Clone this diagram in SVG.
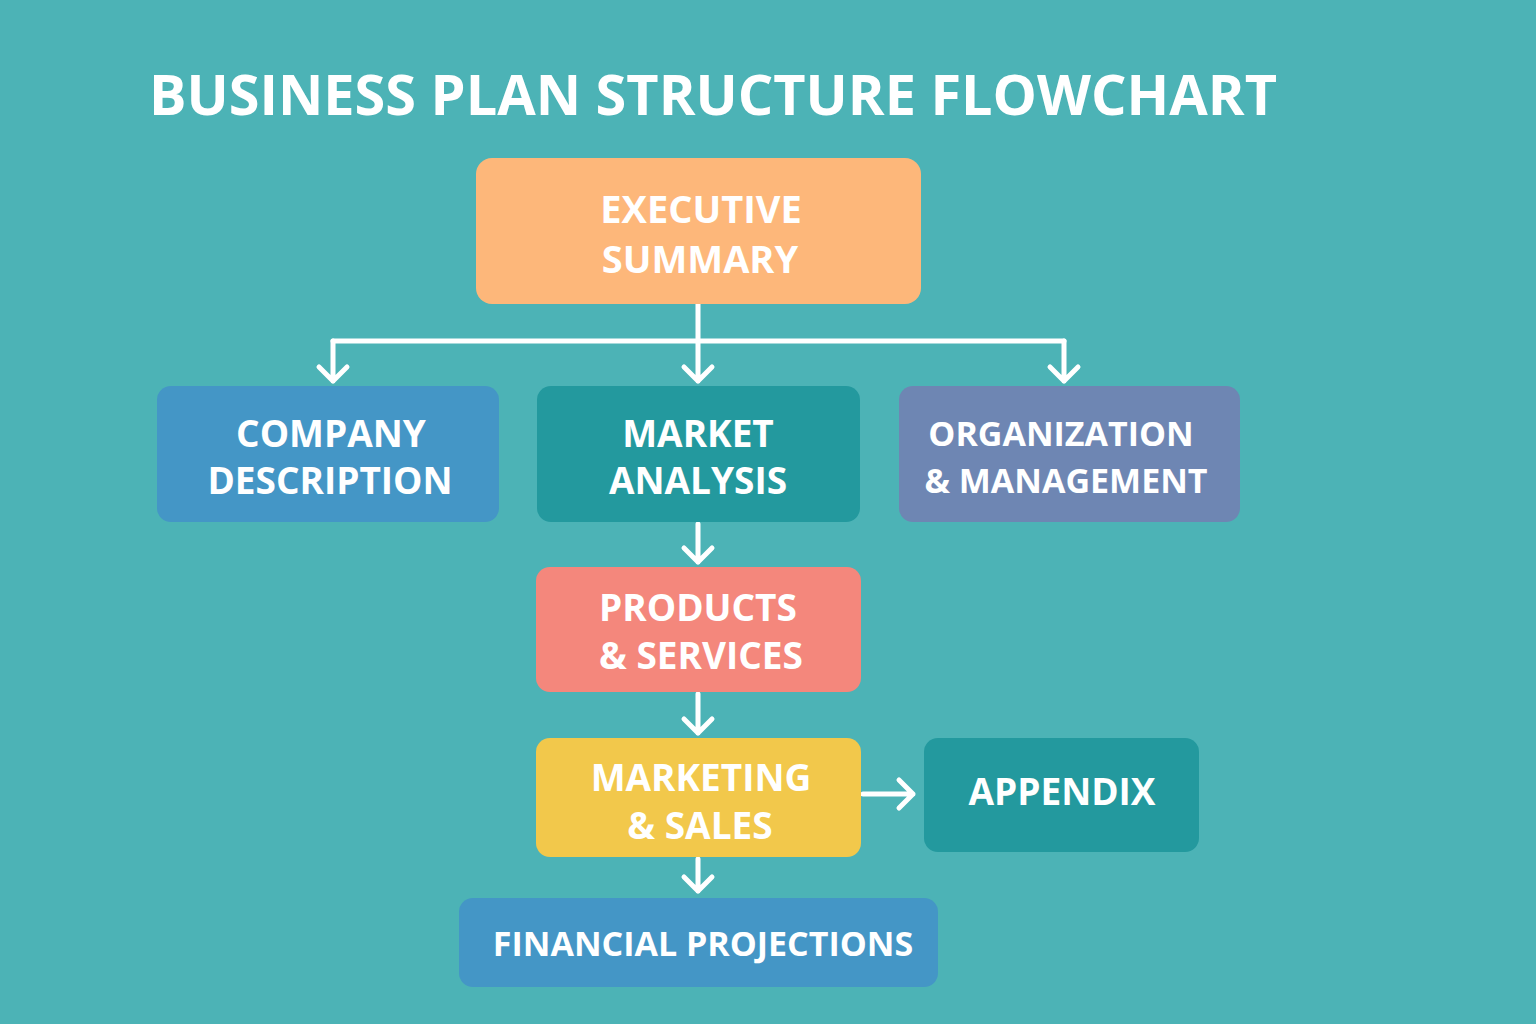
<svg xmlns="http://www.w3.org/2000/svg" width="1536" height="1024" viewBox="0 0 1536 1024">
<style>
.t{font-family:"Open Sans","Liberation Sans",sans-serif;font-weight:700;fill:#fff;text-anchor:middle}
.n{font-size:37px}
.c{stroke:#fff;stroke-width:5;fill:none;stroke-linecap:round;stroke-linejoin:round}
</style>
<rect width="1536" height="1024" fill="#4cb3b6"/>
<text class="t" x="713" y="115" font-size="56" textLength="1128" lengthAdjust="spacingAndGlyphs">BUSINESS PLAN STRUCTURE FLOWCHART</text>
<g id="connectors" class="c">
<path d="M698 304 V341 M333 341 H1064"/>
<path d="M333 341 V381 M319 367 L333 381 L347 367"/>
<path d="M698 341 V381 M684 367 L698 381 L712 367"/>
<path d="M1064 341 V381 M1050 367 L1064 381 L1078 367"/>
<path d="M698 524 V562 M684 548 L698 562 L712 548"/>
<path d="M698 694 V733 M684 719 L698 733 L712 719"/>
<path d="M863 794 H913 M899 780 L913 794 L899 808"/>
<path d="M698 859 V891 M684 877 L698 891 L712 877"/>
</g>
<g id="executive"><rect x="476" y="158" width="445" height="146" rx="16" fill="#fdb77a"/>
<text class="t" font-size="38" x="701" y="223">EXECUTIVE</text><text class="t" font-size="38" x="700" y="273">SUMMARY</text></g>
<g id="company"><rect x="157" y="386" width="342" height="136" rx="14" fill="#4496c6"/>
<text class="t n" x="331" y="447">COMPANY</text><text class="t n" x="330" y="494">DESCRIPTION</text></g>
<g id="market"><rect x="537" y="386" width="323" height="136" rx="14" fill="#23999e"/>
<text class="t n" x="698" y="447">MARKET</text><text class="t n" x="698" y="494">ANALYSIS</text></g>
<g id="organization"><rect x="899" y="386" width="341" height="136" rx="14" fill="#6e86b3"/>
<text class="t" font-size="34" x="1061" y="446">ORGANIZATION</text><text class="t" font-size="34" x="1066" y="493">&amp; MANAGEMENT</text></g>
<g id="products"><rect x="536" y="567" width="325" height="125" rx="14" fill="#f4877c"/>
<text class="t n" x="698" y="621">PRODUCTS</text><text class="t n" x="701" y="669">&amp; SERVICES</text></g>
<g id="marketing"><rect x="536" y="738" width="325" height="119" rx="14" fill="#f2c84b"/>
<text class="t n" x="701" y="791">MARKETING</text><text class="t n" x="700" y="839">&amp; SALES</text></g>
<g id="appendix"><rect x="924" y="738" width="275" height="114" rx="14" fill="#23999e"/>
<text class="t n" x="1062" y="805">APPENDIX</text></g>
<g id="financial"><rect x="459" y="898" width="479" height="89" rx="14" fill="#4496c6"/>
<text class="t" font-size="34" x="703" y="956">FINANCIAL PROJECTIONS</text></g>
</svg>
